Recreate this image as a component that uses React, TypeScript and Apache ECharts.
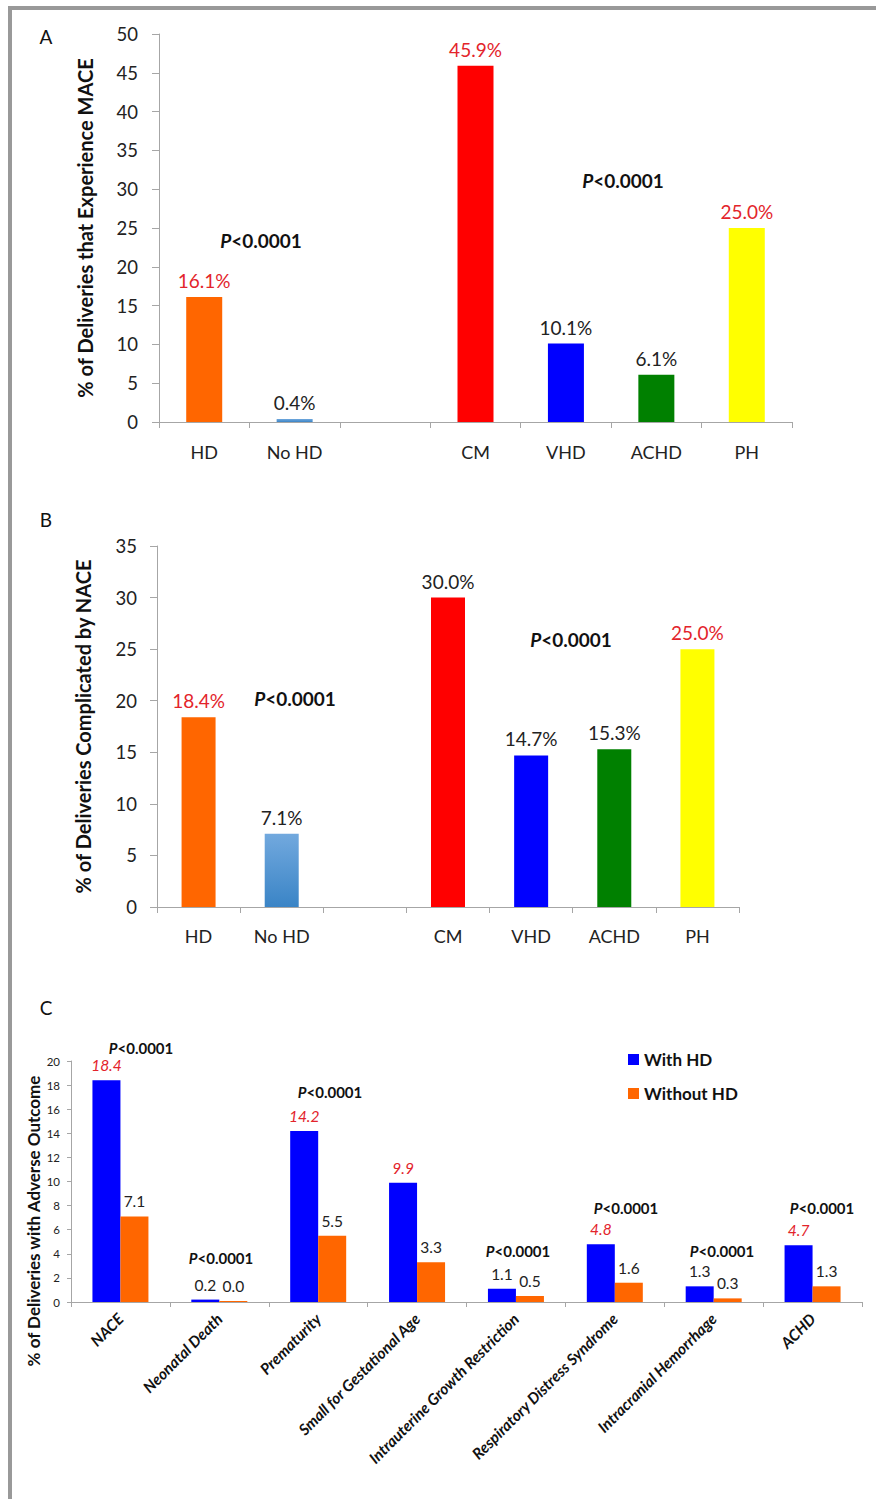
import React, { useEffect, useRef } from "react";
import * as echarts from "echarts";

// ---------- data ----------
const catsA = ["HD", "No HD", "", "CM", "VHD", "ACHD", "PH"];
const valsA: (number | null)[] = [16.1, 0.4, null, 45.9, 10.1, 6.1, 25.0];
const redA = [true, false, false, true, false, false, true];

const catsB = ["HD", "No HD", "", "CM", "VHD", "ACHD", "PH"];
const valsB: (number | null)[] = [18.4, 7.1, null, 30.0, 14.7, 15.3, 25.0];
const redB = [true, false, false, false, false, false, true];

const catsC = [
  "NACE",
  "Neonatal Death",
  "Prematurity",
  "Small for Gestational Age",
  "Intrauterine Growth Restriction",
  "Respiratory Distress Syndrome",
  "Intracranial Hemorrhage",
  "ACHD",
];
const withHD = [18.4, 0.2, 14.2, 9.9, 1.1, 4.8, 1.3, 4.7];
const withoutHD = [7.1, 0.0, 5.5, 3.3, 0.5, 1.6, 0.3, 1.3];
const withHDRed = [true, false, true, true, false, true, false, true];

const seriesNamesC = ["With HD", "Without HD"];
const pValue = "<0.0001";

const titleA = "% of Deliveries that Experience MACE";
const titleB = "% of Deliveries Complicated by NACE";
const titleC = "% of Deliveries with Adverse Outcome";

const yA = { min: 0, max: 50, interval: 5 };
const yB = { min: 0, max: 35, interval: 5 };
const yC = { min: 0, max: 20, interval: 2 };

// ---------- styles ----------
const FONT = 'Lato, "Open Sans", sans-serif';
const RED = "#E3242B";
const DARK = "#222";
const AXIS = "#A6A6A6";

const lightBlue = () =>
  new echarts.graphic.LinearGradient(0, 0, 0, 1, [
    { offset: 0, color: "#72A9DE" },
    { offset: 1, color: "#3A84C6" },
  ]);

const barColors = (i: number) =>
  ["#FF6600", null, null, "#FF0000", "#0000FF", "#008000", "#FFFF00"][i];

export default function App() {
  const ref = useRef<HTMLDivElement>(null);

  useEffect(() => {
    if (!ref.current) return;
    const chart = echarts.init(ref.current, null, { renderer: "svg" });

    const pLabel = (x: number, y: number, size: number) => ({
      type: "text",
      x,
      y,
      style: {
        text: "{i|P}{b|" + pValue + "}",
        align: "center",
        verticalAlign: "middle",
        rich: {
          i: { fontStyle: "italic", fontWeight: "bold", fontSize: size, fontFamily: FONT, fill: "#111" },
          b: { fontWeight: "bold", fontSize: size, fontFamily: FONT, fill: "#111" },
        },
      },
    });

    const letter = (t: string, x: number, y: number) => ({
      type: "text",
      x,
      y,
      style: {
        text: t,
        fontSize: 19,
        fontFamily: FONT,
        fill: "#111",
        align: "center",
        verticalAlign: "middle",
      },
    });

    const makeData = (vals: (number | null)[], reds: boolean[]) =>
      vals.map((v, i) =>
        v == null
          ? null
          : {
              value: v,
              itemStyle: { color: i === 1 ? lightBlue() : barColors(i) },
              label: { color: reds[i] ? RED : DARK },
            }
      );

    const yAxisBase = (name: string, nameGap: number, nameSize: number, labelSize: number, margin: number, tickLen: number) => ({
      type: "value",
      name,
      nameLocation: "middle",
      nameGap,
      nameTextStyle: { fontSize: nameSize, fontWeight: "bold", color: "#111", fontFamily: FONT },
      axisLine: { show: true, lineStyle: { color: AXIS, width: 1 } },
      axisTick: { show: true, length: tickLen, lineStyle: { color: AXIS } },
      axisLabel: { fontSize: labelSize, color: DARK, fontFamily: FONT, margin },
      splitLine: { show: false },
    });

    const xAxisBase = (cats: string[], gridIndex: number, fontSize: number, margin: number, tickLen: number) => ({
      type: "category",
      gridIndex,
      data: cats,
      axisLine: { show: true, lineStyle: { color: AXIS, width: 1 } },
      axisTick: { show: true, length: tickLen, lineStyle: { color: AXIS } },
      axisLabel: { fontSize, color: DARK, fontFamily: FONT, margin, interval: 0 },
    });

    const valueLabel = (size: number, pct: boolean) => ({
      show: true,
      position: "top",
      distance: 7,
      fontSize: size,
      fontFamily: FONT,
      formatter: (p: any) => Number(p.value).toFixed(1) + (pct ? "%" : ""),
    });

    chart.setOption({
      animation: false,
      backgroundColor: "#ffffff",
      textStyle: { fontFamily: FONT },
      grid: [
        { left: 159, top: 34, width: 633, height: 388 },
        { left: 157, top: 546, width: 582, height: 361 },
        { left: 71, top: 1061, width: 791, height: 241 },
      ],
      legend: {
        data: seriesNamesC,
        orient: "vertical",
        left: 623,
        top: 1046,
        itemWidth: 11,
        itemHeight: 11,
        itemGap: 17,
        icon: "rect",
        textStyle: { fontSize: 17, fontWeight: "bold", color: "#111", fontFamily: FONT },
      },
      xAxis: [
        xAxisBase(catsA, 0, 18, 21, 6),
        xAxisBase(catsB, 1, 18, 20, 6),
        {
          ...xAxisBase(catsC, 2, 15, 14, 5),
          axisLabel: {
            fontSize: 15.5,
            fontWeight: "bold",
            fontStyle: "italic",
            color: "#111",
            fontFamily: FONT,
            rotate: 45,
            margin: 14,
            interval: 0,
          },
        },
      ],
      yAxis: [
        { ...yAxisBase(titleA, 64, 20, 18.5, 21, 7), gridIndex: 0, ...yA },
        { ...yAxisBase(titleB, 64, 20, 18.5, 20, 7), gridIndex: 1, ...yB },
        { ...yAxisBase("", 29, 17, 11.5, 11, 4), gridIndex: 2, ...yC },
      ],
      series: [
        {
          type: "bar",
          xAxisIndex: 0,
          yAxisIndex: 0,
          barWidth: 36,
          data: makeData(valsA, redA),
          label: valueLabel(19, true),
        },
        {
          type: "bar",
          xAxisIndex: 1,
          yAxisIndex: 1,
          barWidth: 34,
          data: makeData(valsB, redB),
          label: valueLabel(19, true),
        },
        {
          name: seriesNamesC[0],
          type: "bar",
          xAxisIndex: 2,
          yAxisIndex: 2,
          barWidth: 28,
          barGap: "0%",
          itemStyle: { color: "#0000FF" },
          data: withHD.map((v, i) => ({
            value: v,
            label: withHDRed[i]
              ? { color: RED, fontStyle: "italic" }
              : { color: DARK, fontStyle: "normal" },
          })),
          label: valueLabel(15.5, false),
        },
        {
          name: seriesNamesC[1],
          type: "bar",
          xAxisIndex: 2,
          yAxisIndex: 2,
          barWidth: 28,
          barGap: "0%",
          barMinHeight: 1,
          itemStyle: { color: "#FF6600" },
          data: withoutHD,
          label: { ...valueLabel(15.5, false), color: DARK },
        },
      ],
      graphic: [
        { type: "rect", shape: { x: 8, y: 6, width: 868, height: 4 }, style: { fill: "#999" } },
        { type: "rect", shape: { x: 8, y: 6, width: 4, height: 1493 }, style: { fill: "#999" } },
        letter("A", 46, 36),
        letter("B", 46, 519),
        letter("C", 46, 1007),
        {
          type: "text",
          x: 33,
          y: 1221,
          rotation: Math.PI / 2,
          style: {
            text: titleC,
            fontSize: 17,
            fontWeight: "bold",
            fontFamily: FONT,
            fill: "#111",
            align: "center",
            verticalAlign: "middle",
          },
        },
        pLabel(261, 240, 19),
        pLabel(623, 180, 19),
        pLabel(295, 698, 19),
        pLabel(571, 639, 19),
        pLabel(141, 1048, 15),
        pLabel(221, 1258, 15),
        pLabel(330, 1092, 15),
        pLabel(518, 1251, 15),
        pLabel(626, 1208, 15),
        pLabel(722, 1251, 15),
        pLabel(822, 1208, 15),
      ],
    });

    return () => chart.dispose();
  }, []);

  return (
    <div
      ref={ref}
      style={{ position: "absolute", left: 0, top: 0, width: 877, height: 1499, background: "#fff" }}
    />
  );
}
